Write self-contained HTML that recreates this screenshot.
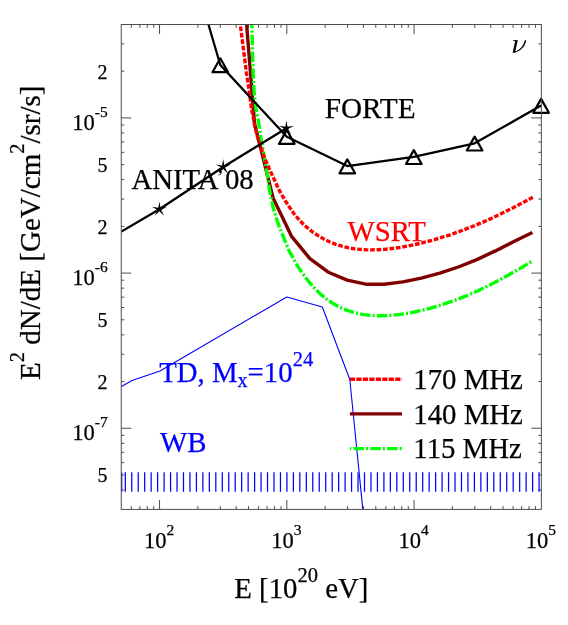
<!DOCTYPE html>
<html><head><meta charset="utf-8"><title>plot</title>
<style>html,body{margin:0;padding:0;background:#fff}svg{display:block;will-change:transform}text{font-family:"Liberation Serif",serif;font-kerning:normal;stroke-width:0.25px;stroke:#000}text.r{fill:#f00;stroke:#f00}text.b{fill:#00f;stroke:#00f}</style>
</head><body>
<svg width="568" height="625" viewBox="0 0 568 625">
<rect width="568" height="625" fill="#fff"/>
<defs><clipPath id="c"><rect x="121.25" y="24.5" width="420.1" height="484.9"/></clipPath></defs>
<path d="M131.33 509.4v-3.3M131.33 24.5v3.3M139.85 509.4v-3.3M139.85 24.5v3.3M147.23 509.4v-3.3M147.23 24.5v3.3M153.74 509.4v-3.3M153.74 24.5v3.3M159.56 509.4v-9.5M159.56 24.5v9.5M197.87 509.4v-3.3M197.87 24.5v3.3M220.28 509.4v-3.3M220.28 24.5v3.3M236.18 509.4v-3.3M236.18 24.5v3.3M248.51 509.4v-3.3M248.51 24.5v3.3M258.59 509.4v-3.3M258.59 24.5v3.3M267.11 509.4v-3.3M267.11 24.5v3.3M274.49 509.4v-3.3M274.49 24.5v3.3M281.00 509.4v-3.3M281.00 24.5v3.3M286.82 509.4v-9.5M286.82 24.5v9.5M325.13 509.4v-3.3M325.13 24.5v3.3M347.54 509.4v-3.3M347.54 24.5v3.3M363.44 509.4v-3.3M363.44 24.5v3.3M375.78 509.4v-3.3M375.78 24.5v3.3M385.85 509.4v-3.3M385.85 24.5v3.3M394.37 509.4v-3.3M394.37 24.5v3.3M401.75 509.4v-3.3M401.75 24.5v3.3M408.26 509.4v-3.3M408.26 24.5v3.3M414.09 509.4v-9.5M414.09 24.5v9.5M452.40 509.4v-3.3M452.40 24.5v3.3M474.81 509.4v-3.3M474.81 24.5v3.3M490.71 509.4v-3.3M490.71 24.5v3.3M503.04 509.4v-3.3M503.04 24.5v3.3M513.12 509.4v-3.3M513.12 24.5v3.3M521.64 509.4v-3.3M521.64 24.5v3.3M529.02 509.4v-3.3M529.02 24.5v3.3M535.53 509.4v-3.3M535.53 24.5v3.3M121.25 490.01h3.0M541.35 490.01h-3.0M121.25 474.98h3.0M541.35 474.98h-3.0M121.25 462.69h3.0M541.35 462.69h-3.0M121.25 452.30h3.0M541.35 452.30h-3.0M121.25 443.30h3.0M541.35 443.30h-3.0M121.25 435.36h3.0M541.35 435.36h-3.0M121.25 428.26h10M541.35 428.26h-10M121.25 381.55h3.0M541.35 381.55h-3.0M121.25 354.23h3.0M541.35 354.23h-3.0M121.25 334.84h3.0M541.35 334.84h-3.0M121.25 319.80h3.0M541.35 319.80h-3.0M121.25 307.52h3.0M541.35 307.52h-3.0M121.25 297.13h3.0M541.35 297.13h-3.0M121.25 288.13h3.0M541.35 288.13h-3.0M121.25 280.19h3.0M541.35 280.19h-3.0M121.25 273.09h10M541.35 273.09h-10M121.25 226.38h3.0M541.35 226.38h-3.0M121.25 199.06h3.0M541.35 199.06h-3.0M121.25 179.67h3.0M541.35 179.67h-3.0M121.25 164.63h3.0M541.35 164.63h-3.0M121.25 152.35h3.0M541.35 152.35h-3.0M121.25 141.96h3.0M541.35 141.96h-3.0M121.25 132.96h3.0M541.35 132.96h-3.0M121.25 125.02h3.0M541.35 125.02h-3.0M121.25 117.92h10M541.35 117.92h-10M121.25 71.21h3.0M541.35 71.21h-3.0M121.25 43.89h3.0M541.35 43.89h-3.0" stroke="#4c4c4c" stroke-width="1" fill="none"/>
<path d="M125.30 472.2V491.7M131.76 472.2V491.7M138.23 472.2V491.7M144.69 472.2V491.7M151.16 472.2V491.7M157.62 472.2V491.7M164.09 472.2V491.7M170.56 472.2V491.7M177.02 472.2V491.7M183.49 472.2V491.7M189.95 472.2V491.7M196.42 472.2V491.7M202.88 472.2V491.7M209.35 472.2V491.7M215.81 472.2V491.7M222.28 472.2V491.7M228.74 472.2V491.7M235.21 472.2V491.7M241.67 472.2V491.7M248.14 472.2V491.7M254.60 472.2V491.7M261.07 472.2V491.7M267.53 472.2V491.7M274.00 472.2V491.7M280.46 472.2V491.7M286.92 472.2V491.7M293.39 472.2V491.7M299.85 472.2V491.7M306.32 472.2V491.7M312.78 472.2V491.7M319.25 472.2V491.7M325.71 472.2V491.7M332.18 472.2V491.7M338.64 472.2V491.7M345.11 472.2V491.7M351.57 472.2V491.7M358.04 472.2V491.7M364.50 472.2V491.7M370.97 472.2V491.7M377.43 472.2V491.7M383.90 472.2V491.7M390.36 472.2V491.7M396.83 472.2V491.7M403.29 472.2V491.7M409.76 472.2V491.7M416.22 472.2V491.7M422.69 472.2V491.7M429.15 472.2V491.7M435.62 472.2V491.7M442.08 472.2V491.7M448.55 472.2V491.7M455.01 472.2V491.7M461.48 472.2V491.7M467.94 472.2V491.7M474.41 472.2V491.7M480.87 472.2V491.7M487.34 472.2V491.7M493.80 472.2V491.7M500.27 472.2V491.7M506.73 472.2V491.7M513.20 472.2V491.7M519.66 472.2V491.7M526.13 472.2V491.7M532.59 472.2V491.7M539.06 472.2V491.7M121.7 472.2V491.7" stroke="#0000ff" stroke-width="1.25" fill="none"/>
<g clip-path="url(#c)" fill="none" stroke-linejoin="round">
<polyline points="121.4,386.5 132,380.5 160,371 286.8,297 322.3,307 349.8,379.5 362.8,509.4" stroke="#0000ff" stroke-width="1.1"/>
<polyline points="246.1,18.0 254.6,124.0 273.1,198.0 291.4,236.1 309.9,258.7 328.3,272.2 347.2,280.1 365.7,284.2 384.2,284.2 402.8,281.9 421.3,278.1 439.8,273.2 458.3,267.0 476.8,259.6 495.4,250.9 513.9,241.5 532.4,232.5" stroke="#800000" stroke-width="3.4"/>
<polyline points="251.9,18.0 251.9,24.8 252.6,55.2 253.1,72.8 254.0,90.4 255.8,108.0 258.2,120.0 260.8,137.6 264.0,155.2 267.0,172.8 269.6,190.4 273.2,208.0 278.8,225.6 288.8,250.2 297.6,266.1 304.0,275.4 310.0,283.2 316.0,289.8 322.0,295.4 328.0,300.1 334.0,304.1 340.0,307.3 346.0,309.9 352.0,312.0 358.0,313.5 364.0,314.6 370.0,315.4 376.0,315.7 382.0,315.8 388.0,315.6 394.0,315.1 400.0,314.4 406.0,313.5 412.0,312.5 418.0,311.2 424.0,309.8 430.0,308.3 436.0,306.5 442.0,304.7 448.0,302.7 454.0,300.6 460.0,298.3 466.0,295.9 472.0,293.3 478.0,290.7 484.0,287.8 490.0,284.9 496.0,281.8 502.0,278.6 508.0,275.3 514.0,271.9 520.0,268.5 526.0,264.9 532.0,261.4 533.2,260.6" stroke="#00ff00" stroke-width="3.4" stroke-dasharray="10.4 2.1 2.1 2.2"/>
<polyline points="239.9,20.0 240.3,24.8 244.2,55.2 246.4,72.8 249.1,90.4 251.4,108.0 253.8,120.0 254.7,125.6 257.7,137.6 263.5,155.2 271.1,172.8 279.3,190.4 285.0,200.3 289.0,206.5 293.8,213.5 298.0,218.5 302.6,223.5 306.0,226.6 312.0,231.5 318.0,235.6 324.0,239.1 330.0,242.0 336.0,244.4 342.0,246.2 348.0,247.7 354.0,248.7 360.0,249.4 366.0,249.8 372.0,249.9 378.0,249.7 384.0,249.4 390.0,248.8 396.0,248.0 402.0,247.1 408.0,246.0 414.0,244.7 420.0,243.4 426.0,241.9 432.0,240.3 438.0,238.5 444.0,236.7 450.0,234.8 456.0,232.7 462.0,230.5 468.0,228.2 474.0,225.9 480.0,223.4 486.0,220.8 492.0,218.1 498.0,215.2 504.0,212.3 510.0,209.3 516.0,206.3 522.0,203.1 528.0,199.9 532.8,197.2" stroke="#ff0000" stroke-width="3.4" stroke-dasharray="4.7 1.77"/>
<polyline points="201.3,0.0 220.3,65.0 286.8,136.7 347.3,166.1 413.8,156.8 474.6,143.3 541.1,105.6" stroke="#000" stroke-width="2.25"/>
<polyline points="121.4,231.6 159.4,209.3 223.2,167.0 286.4,128.3" stroke="#000" stroke-width="2.25"/>
</g>
<path d="M212.50 72.20L220.30 58.30L228.10 72.20Z" fill="none" stroke="#000" stroke-width="2.2" stroke-linejoin="round"/>
<path d="M279.00 143.90L286.80 130.00L294.60 143.90Z" fill="none" stroke="#000" stroke-width="2.2" stroke-linejoin="round"/>
<path d="M339.50 173.30L347.30 159.40L355.10 173.30Z" fill="none" stroke="#000" stroke-width="2.2" stroke-linejoin="round"/>
<path d="M406.00 164.00L413.80 150.10L421.60 164.00Z" fill="none" stroke="#000" stroke-width="2.2" stroke-linejoin="round"/>
<path d="M466.80 150.50L474.60 136.60L482.40 150.50Z" fill="none" stroke="#000" stroke-width="2.2" stroke-linejoin="round"/>
<path d="M533.30 112.80L541.10 98.90L548.90 112.80Z" fill="none" stroke="#000" stroke-width="2.2" stroke-linejoin="round"/>
<polygon points="159.40,201.40 160.52,207.76 166.91,206.86 161.21,209.89 164.04,215.69 159.40,211.20 154.76,215.69 157.59,209.89 151.89,206.86 158.28,207.76" fill="#000"/>
<polygon points="223.20,159.10 224.32,165.46 230.71,164.56 225.01,167.59 227.84,173.39 223.20,168.90 218.56,173.39 221.39,167.59 215.69,164.56 222.08,165.46" fill="#000"/>
<polygon points="286.40,120.40 287.52,126.76 293.91,125.86 288.21,128.89 291.04,134.69 286.40,130.20 281.76,134.69 284.59,128.89 278.89,125.86 285.28,126.76" fill="#000"/>
<path d="M349.9 379.2H402" stroke="#ff0000" stroke-width="3.4" stroke-dasharray="5.2 1.27" fill="none"/>
<path d="M349.9 413.9H402" stroke="#800000" stroke-width="3.4" fill="none"/>
<path d="M349.9 448.6H402" stroke="#00ff00" stroke-width="3.4" stroke-dasharray="10.4 2.1 2.1 2.2" stroke-dashoffset="13.2" fill="none"/>
<rect x="121.25" y="24.5" width="420.1" height="484.9" fill="none" stroke="#4c4c4c" stroke-width="1"/>
<text x="107.6" y="78.61" font-size="20" text-anchor="end">2</text>
<text x="107.6" y="172.03" font-size="20" text-anchor="end">5</text>
<text x="107.6" y="233.78" font-size="20" text-anchor="end">2</text>
<text x="107.6" y="327.20" font-size="20" text-anchor="end">5</text>
<text x="107.6" y="388.95" font-size="20" text-anchor="end">2</text>
<text x="107.6" y="482.38" font-size="20" text-anchor="end">5</text>
<text x="72.3" y="129.92" font-size="22.5">10<tspan font-size="15.5" dy="-13.3">-5</tspan></text>
<text x="72.3" y="285.09" font-size="22.5">10<tspan font-size="15.5" dy="-13.3">-6</tspan></text>
<text x="72.3" y="440.26" font-size="22.5">10<tspan font-size="15.5" dy="-13.3">-7</tspan></text>
<text x="143.96" y="548.2" font-size="22.5">10<tspan font-size="15.5" dy="-13.3">2</tspan></text>
<text x="271.22" y="548.2" font-size="22.5">10<tspan font-size="15.5" dy="-13.3">3</tspan></text>
<text x="398.49" y="548.2" font-size="22.5">10<tspan font-size="15.5" dy="-13.3">4</tspan></text>
<text x="525.75" y="548.2" font-size="22.5">10<tspan font-size="15.5" dy="-13.3">5</tspan></text>
<text x="234.3" y="598" font-size="28.8">E [10<tspan font-size="20.5" dy="-15.8">20</tspan><tspan dy="15.8"> eV]</tspan></text>
<text transform="translate(40.2,379.9) rotate(-90)" font-size="29.0">E<tspan font-size="20.5" dy="-15.8">2</tspan><tspan dy="15.8"> dN/dE [GeV/cm</tspan><tspan font-size="20.5" dy="-15.8">2</tspan><tspan dy="15.8">/sr/s]</tspan></text>
<text x="324.7" y="118" font-size="29.25">FORTE</text>
<text x="131.4" y="188.8" font-size="28.8">ANITA</text>
<text x="224.9" y="188.8" font-size="28.8">08</text>
<path d="M220.3 170.3c0.9 0 1.5 0.7 1.5 1.7c0 1.7 -1.4 3.1 -3.3 3.6l-0.2 -0.5c1.3 -0.5 2.1 -1.3 2.1 -2.2c0 -0.5 -0.4 -0.5 -0.9 -0.7c-0.5 -0.2 -0.6 -0.6 -0.6 -0.9c0 -0.6 0.6 -1 1.4 -1z" fill="#000"/>
<text x="347.6" y="240.8" font-size="28.8" class="r">WSRT</text>
<text x="159.2" y="382.2" font-size="28.8" class="b">TD, M<tspan font-size="20" dy="5">x</tspan><tspan dy="-5">=10</tspan><tspan font-size="20.5" dy="-15.8">24</tspan></text>
<text x="160.0" y="451.9" font-size="28.8" class="b">WB</text>
<text x="413.3" y="389.00" font-size="28.8">170 MHz</text>
<text x="413.3" y="423.55" font-size="28.8">140 MHz</text>
<text x="413.3" y="458.10" font-size="28.8">115 MHz</text>
<path d="M513.03 40.15 L517.76 39.96 L515.28 51.58 C519.23 50.10 523.49 46.23 524.73 40.50 L526.20 40.03 C525.74 44.68 522.72 49.91 515.94 52.31 L515.05 52.78 L512.65 52.78 L515.20 40.89 L513.11 40.89 Z" fill="#000"/>
</svg></body></html>
